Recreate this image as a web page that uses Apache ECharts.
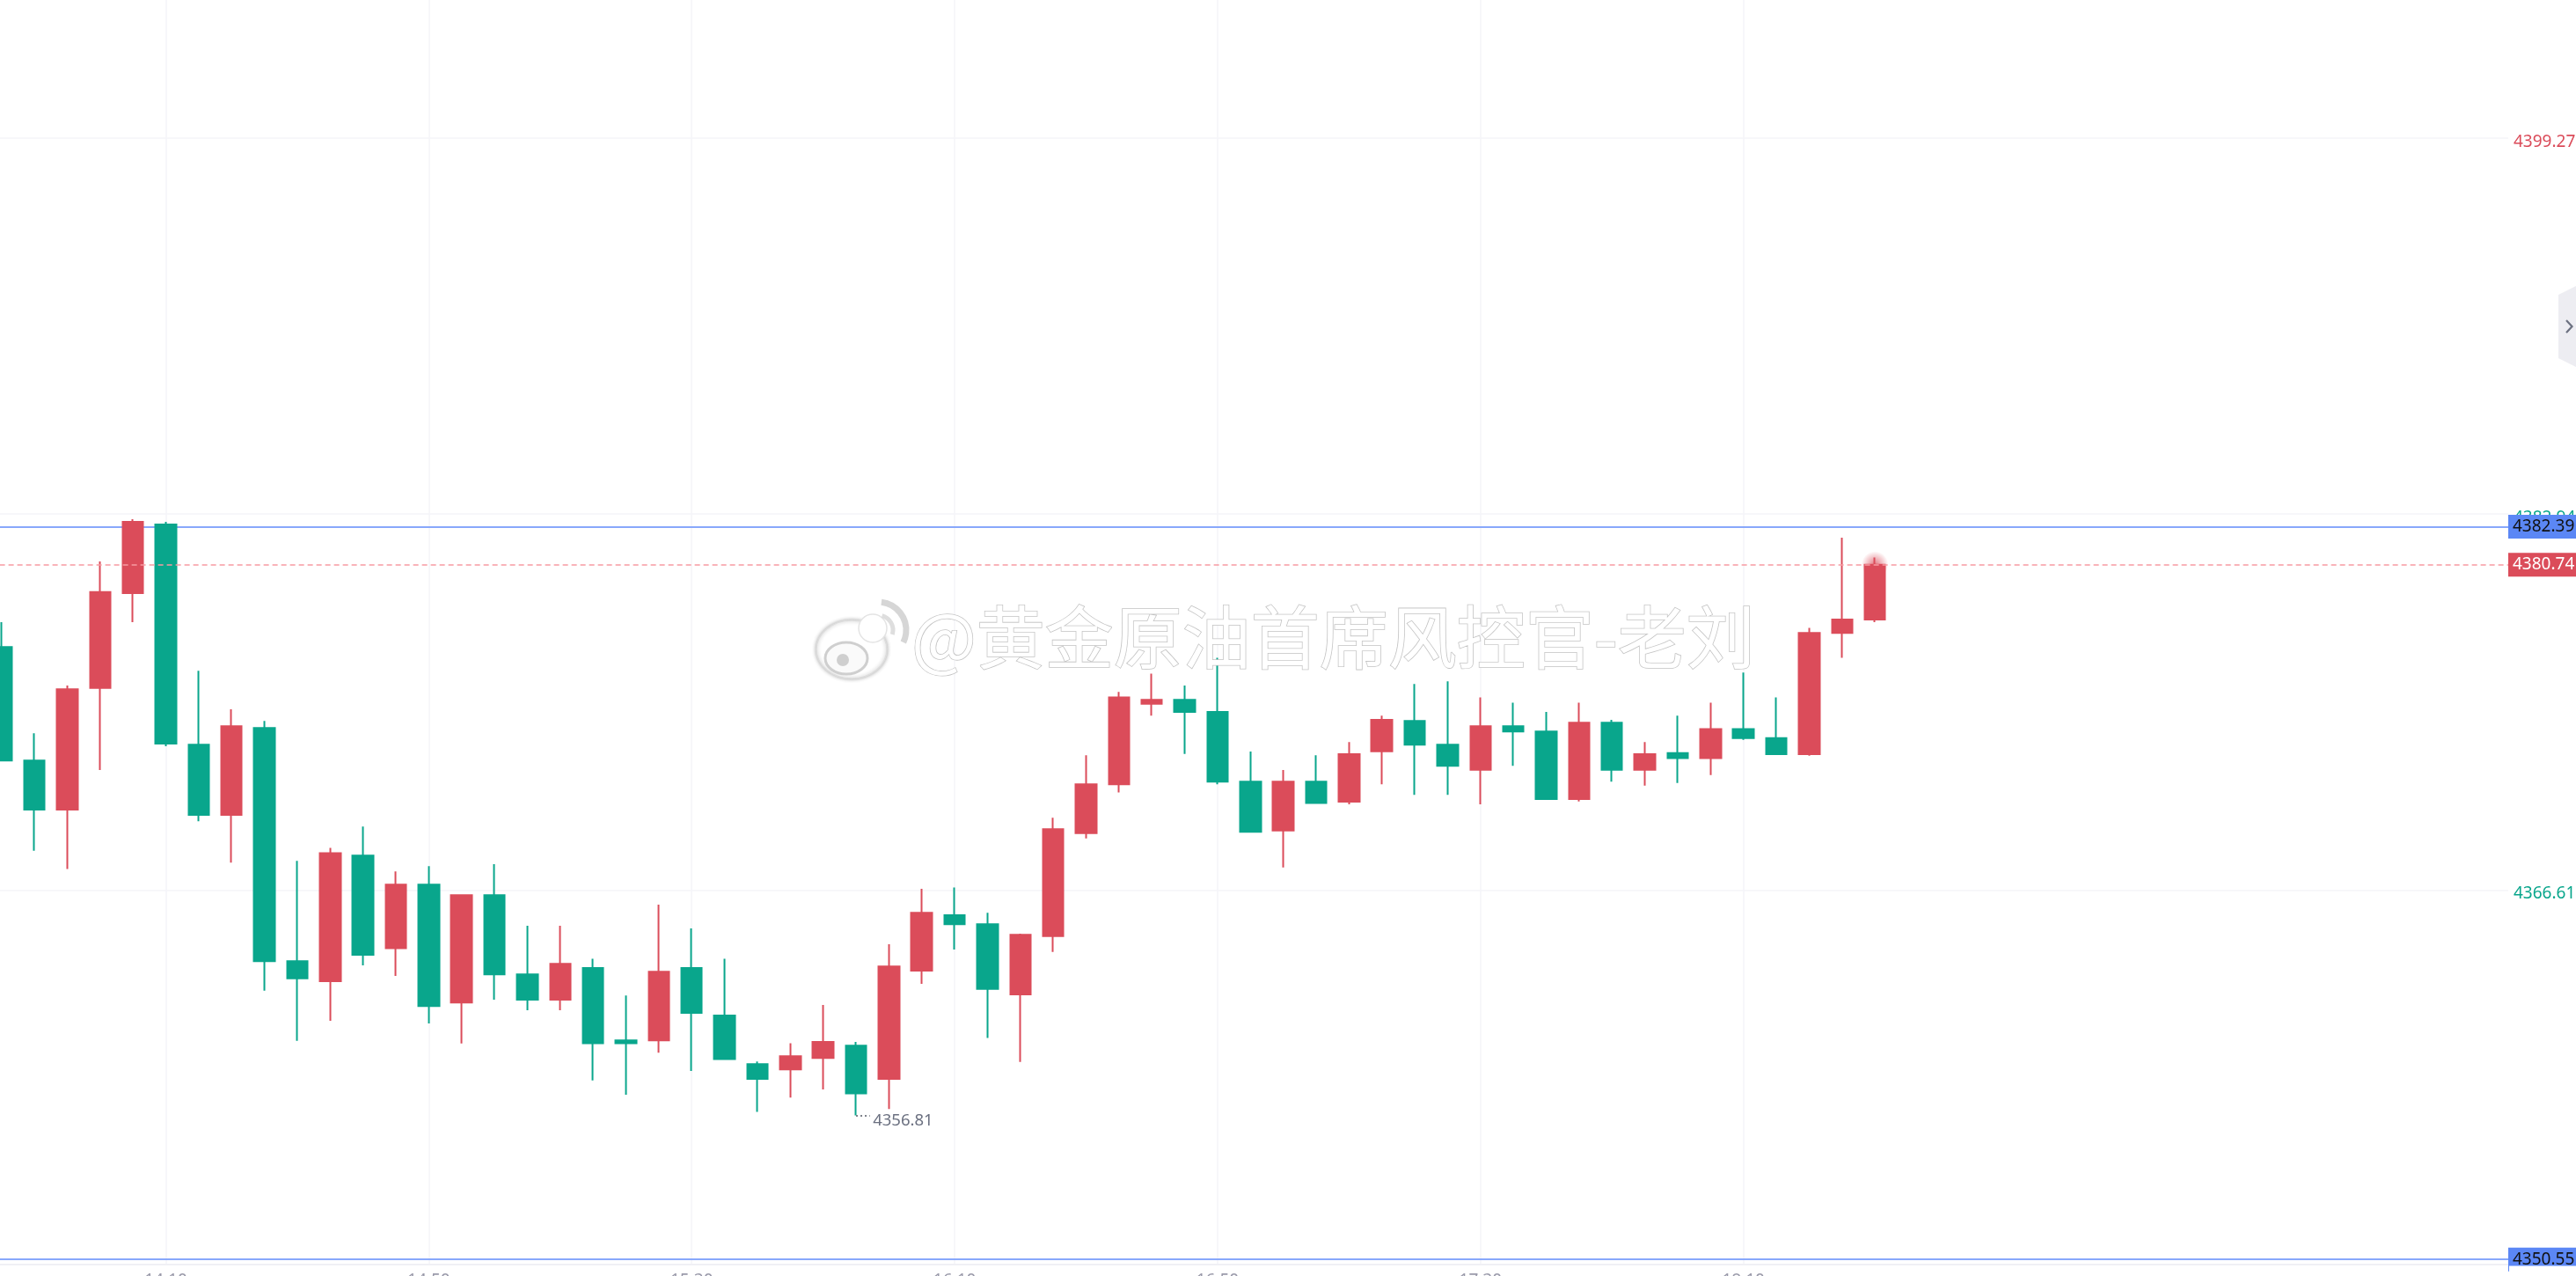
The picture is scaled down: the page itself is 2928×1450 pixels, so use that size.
<!DOCTYPE html>
<html>
<head>
<meta charset="utf-8">
<style>html,body{margin:0;padding:0;background:#fff;overflow:hidden}#c{width:2928px;height:1450px}</style>
<script src="https://cdn.jsdelivr.net/npm/echarts@6/dist/echarts.min.js"></script>
</head>
<body>
<div id="c"></div>
<script>
const opens=[4377.16,4372.23,4370.10,4375.39,4379.51,4382.49,4372.92,4369.87,4373.65,4363.51,4362.64,4368.10,4364.08,4366.84,4361.72,4366.38,4362.94,4361.84,4363.22,4360.07,4360.07,4363.22,4361.15,4359.04,4358.81,4359.31,4359.84,4358.40,4363.10,4365.51,4365.12,4362.07,4364.60,4369.08,4371.20,4374.70,4374.87,4374.34,4371.31,4369.19,4371.31,4370.44,4372.63,4373.95,4372.92,4371.83,4373.72,4373.49,4370.56,4373.88,4371.83,4372.56,4372.34,4373.60,4373.21,4372.51,4377.78,4378.36];
const closes=[4372.23,4370.10,4375.33,4379.55,4382.60,4372.97,4369.87,4373.72,4363.51,4362.77,4368.21,4363.79,4366.84,4361.56,4366.38,4362.94,4361.84,4363.40,4359.95,4359.95,4363.05,4361.27,4359.26,4358.40,4359.38,4360.00,4357.77,4363.28,4365.62,4365.12,4362.31,4364.66,4369.25,4371.20,4374.98,4374.87,4374.34,4371.31,4369.13,4371.31,4370.39,4372.51,4374.00,4372.92,4372.00,4373.72,4373.49,4370.56,4373.88,4371.83,4372.51,4372.34,4373.60,4373.21,4372.51,4377.78,4378.36,4380.74];
const lows=[4372.23,4368.31,4367.52,4371.82,4378.24,4372.85,4369.59,4367.80,4362.23,4360.05,4360.92,4363.33,4362.87,4360.81,4359.94,4361.84,4361.38,4361.38,4358.33,4357.71,4359.54,4358.74,4359.26,4356.96,4357.59,4357.94,4356.81,4357.09,4362.53,4364.02,4360.18,4359.13,4363.91,4368.85,4370.85,4374.18,4372.52,4371.20,4369.13,4367.59,4370.39,4370.33,4371.20,4370.74,4370.74,4370.33,4372.00,4370.56,4370.45,4371.31,4371.14,4371.26,4371.60,4373.13,4372.51,4372.44,4376.70,4378.24];
const highs=[4378.24,4373.42,4375.49,4380.88,4382.72,4382.60,4376.13,4374.46,4373.95,4367.87,4368.44,4369.36,4367.41,4367.64,4366.38,4367.73,4365.05,4365.05,4363.62,4362.02,4365.97,4364.94,4363.62,4359.15,4359.95,4361.61,4360.00,4364.25,4366.66,4366.72,4365.62,4364.71,4369.75,4372.46,4375.21,4376.01,4375.49,4376.70,4372.62,4371.82,4372.46,4373.03,4374.18,4375.56,4375.67,4374.98,4374.75,4374.34,4374.75,4374.00,4373.03,4374.18,4374.75,4376.06,4374.98,4378.00,4381.92,4381.06];
const timeLabels=['14:10','14:50','15:30','16:10','16:50','17:30','18:10'];
const timeTicks=[8,16,24,32,40,48,56];
const priceTicks=[4399.27,4382.94,4366.61];
const refPrice=4382.39;
const lastPrice=4380.74;
const bottomPrice=4350.55;
const lowPrice=4356.81;
const lowIndex=26;
const slotOffset=3;

const RED='#DB4C5A',GREEN='#09A68C',BLUE='#5B87F5',LINEBLUE='#88A8FB',GRID='#F5F5F8';
const rows=opens.map((o,i)=>[i+slotOffset,o,closes[i],lows[i],highs[i]]);
const tag=(bg,fg)=>({show:true,position:'end',distance:0,formatter:'{c}',backgroundColor:bg,color:fg,
  fontFamily:'Noto Sans',fontSize:19,width:72,height:27,lineHeight:28,padding:[0,0,0,5],align:'left'});

const chart=echarts.init(document.getElementById('c'),null,{renderer:'canvas',width:2928,height:1450});
chart.setOption({
  animation:false,
  backgroundColor:'#fff',
  grid:{left:-110.38,top:0,width:2961.38,height:1437,outerBoundsMode:'none',containLabel:false},
  xAxis:{type:'value',min:0,max:79.27,
    axisLine:{show:true,onZero:false,lineStyle:{color:'#F0F0F5',width:2}},
    axisTick:{show:false,customValues:timeTicks},
    splitLine:{show:true,lineStyle:{color:GRID,width:1.5}},
    axisLabel:{margin:9,color:'#9A9AAA',fontFamily:'Noto Sans',fontSize:19,customValues:timeTicks,
      formatter:v=>timeLabels[timeTicks.indexOf(v)]||''}
  },
  yAxis:{type:'value',position:'right',min:4350.33,max:4405.28,scale:true,
    axisLine:{show:true,lineStyle:{color:'#F0F0F5',width:3}},
    axisTick:{show:false,customValues:priceTicks},
    splitLine:{show:true,lineStyle:{color:GRID,width:1.5}},
    axisLabel:{inside:false,margin:6,customValues:priceTicks,fontFamily:'Noto Sans',fontSize:19,verticalAlign:'top',lineHeight:8,
      formatter:v=>v.toFixed(2),
      color:v=>v>4390?RED:GREEN}
  },
  series:[
    {type:'candlestick',z:3,barWidth:24,
      encode:{x:0,y:[1,2,3,4]},
      data:rows,
      itemStyle:{color:RED,color0:GREEN,borderColor:RED,borderColor0:GREEN,borderWidth:2},
      markLine:{silent:true,symbol:'none',animation:false,z:5,
        data:[
          {yAxis:lastPrice,lineStyle:{color:'#F79AA2',width:1.5,type:[6,4]},label:tag(RED,'#fff')},
          [{coord:[lowIndex+slotOffset,lowPrice],lineStyle:{color:'#555B66',width:1.5,type:[2,3]},label:{show:false}},
           {coord:[lowIndex+slotOffset+0.42,lowPrice]}]
        ]},
      markPoint:{silent:true,animation:false,z:1,
        data:[
          {coord:[lowIndex+slotOffset+0.42,lowPrice],symbol:'circle',symbolSize:1,
           itemStyle:{color:'rgba(0,0,0,0)'},
           label:{show:true,position:'right',distance:3,offset:[0,6],formatter:lowPrice.toFixed(2),color:'#6B7080',fontFamily:'Noto Sans',fontSize:18.5}},
          {coord:[57+slotOffset,lastPrice],symbol:'circle',symbolSize:30,
           itemStyle:{color:{type:'radial',x:0.5,y:0.5,r:0.5,colorStops:[{offset:0,color:'rgba(219,76,90,0.75)'},{offset:0.55,color:'rgba(219,76,90,0.35)'},{offset:1,color:'rgba(219,76,90,0.02)'}]}},
           label:{show:false}}
        ]}
    },
    {type:'line',z:1,data:[],
      markLine:{silent:true,symbol:'none',animation:false,z:1,
        data:[
          {yAxis:refPrice,lineStyle:{color:LINEBLUE,width:2,type:'solid'},label:tag(BLUE,'#111')},
          {yAxis:bottomPrice,lineStyle:{color:LINEBLUE,width:2,type:'solid'},label:tag(BLUE,'#111')}
        ]}
    }
  ],
  graphic:[
    {type:'rect',z:50,shape:{x:2852,y:1438.5,width:76,height:12},style:{fill:'#fff'}},
    {type:'polygon',z:60,shape:{points:[[2908,335],[2928,325],[2928,417],[2908,407]]},style:{fill:'#EDEDF2'}},
    {type:'polyline',z:61,shape:{points:[[2917,364],[2923.5,371],[2917,378]]},style:{stroke:'#6B7080',lineWidth:2.2,fill:null}},
    {type:'text',z:70,silent:true,x:1036,y:685,
      style:{text:'@黄金原油首席风控官-老刘',fontFamily:'Noto Sans CJK SC',fontSize:78,fontWeight:400,fill:'#fff',
        stroke:'#C4C4C4',lineWidth:1.6,shadowColor:'rgba(0,0,0,0.45)',shadowBlur:4,shadowOffsetX:1,shadowOffsetY:2}},
    {type:'group',z:70,silent:true,children:[
      {type:'ellipse',z:70,shape:{cx:968,cy:738,rx:40,ry:33},style:{fill:'#fff',stroke:'#DDD',lineWidth:1.5,shadowColor:'rgba(0,0,0,0.3)',shadowBlur:4}},
      {type:'circle',z:70,shape:{cx:992,cy:714,r:16},style:{fill:'#fff',stroke:'#E4E4E4',lineWidth:1.5}},
      {type:'ellipse',z:71,shape:{cx:962,cy:748,rx:24,ry:18},style:{fill:'#FAFAFA',stroke:'#CFCFCF',lineWidth:3}},
      {type:'circle',z:72,shape:{cx:958,cy:750,r:7},style:{fill:'#CFCFCF'}},
      {type:'arc',z:71,shape:{cx:998,cy:716,r:32,startAngle:-1.45,endAngle:0.45},style:{stroke:'#D6D6D6',lineWidth:7,fill:null}},
      {type:'arc',z:71,shape:{cx:998,cy:716,r:17,startAngle:-1.3,endAngle:0.3},style:{stroke:'#DEDEDE',lineWidth:5,fill:null}}
    ]}
  ]
});
</script>
</body>
</html>
